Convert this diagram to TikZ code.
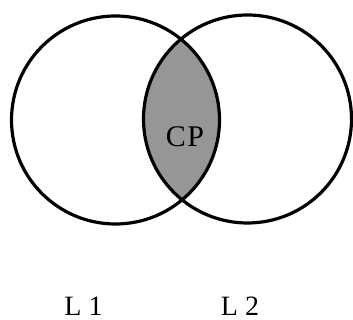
\documentclass[tikz,border=0pt]{standalone}
\usepackage{fontspec}
\setmainfont{Liberation Serif}
\usetikzlibrary{positioning}
\definecolor{lensgray}{RGB}{150, 150, 150}

\begin{document}
\begin{tikzpicture}[x=1pt, y=1pt,
        ring/.style={draw=black, line width=3.2pt},
        tag/.style={inner sep=0pt, font=\fontsize{28}{28}\selectfont}]
            \useasboundingbox (0,0) rectangle (353,320);

            % Centres
            \coordinate (c1) at (115.5,200);
            \coordinate (c2) at (247.5,201);

            % Common part
            \begin{scope}
                \clip (c1) circle (104);
                \fill[lensgray] (c2) circle (104);
            \end{scope}
            \node[tag, font=\fontsize{30}{30}\selectfont] (cp) at (185,183) {C\kern1.5pt P};

            % Circles
            \draw[ring] (c1) circle (104);
            \draw[ring] (c2) circle (104);

            % Labels
            \node[tag] (l1) at (83.5,14) {L 1};
            \node[tag, right=156.5pt of l1.center, anchor=center] (l2) {L 2};
        \end{tikzpicture}
\end{document}
